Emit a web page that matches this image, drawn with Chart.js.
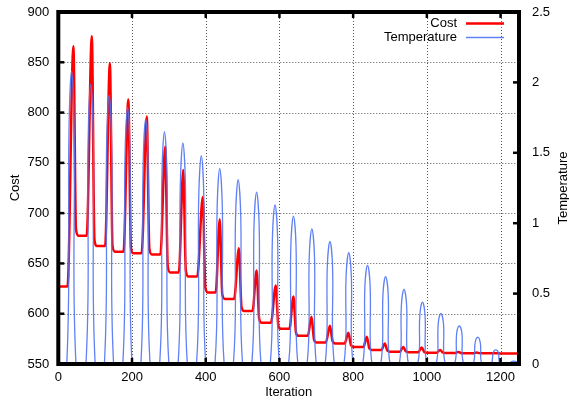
<!DOCTYPE html>
<html>
<head>
<meta charset="utf-8">
<script src="https://cdn.jsdelivr.net/npm/chart.js@4"></script>
<style>
  html, body { margin: 0; padding: 0; background: #fff; }
  #wrap { width: 569px; height: 400px; }
</style>
</head>
<body>
<div id="wrap"><canvas id="chart" width="569" height="400"></canvas></div>
<script>
// Annealing run: cost (left axis) vs temperature (right axis), gnuplot look

const X_TICKS = [0, 200, 400, 600, 800, 1000, 1200];
const COST_TICKS = [550, 600, 650, 700, 750, 800, 850, 900];
const TEMP_TICKS = [0, 0.5, 1, 1.5, 2, 2.5];

// one entry per heating cycle
const TEMP_PEAK_ITER = [36, 88, 138, 188, 237, 288, 338, 388, 438, 488, 538, 588, 638,
                        688, 737, 788, 839, 888, 938, 988, 1038, 1088, 1138, 1187, 1236];
const TEMP_PEAK = [2.08, 1.99, 1.91, 1.82, 1.74, 1.65, 1.57, 1.48, 1.39, 1.31, 1.22, 1.13, 1.05,
                   0.96, 0.87, 0.79, 0.70, 0.62, 0.53, 0.44, 0.36, 0.27, 0.19, 0.10, 0.02];
// value on each side of an arc, 7 iterations from its peak
const TEMP_SHOULDER = [1.66, 1.59, 1.53, 1.46, 1.39, 1.32, 1.26, 1.18, 1.11, 1.05, 0.98, 0.90, 0.84,
                       0.77, 0.70, 0.63, 0.56, 0.50, 0.42, 0.35, 0.29, 0.22, 0.15, 0.08, 0.016];
const TEMP_RISE = 13;   // iterations from zero to peak
const TEMP_FALL = 12;

// cost level before each spike (last one = level after the final cycle)
const COST_LEVEL = [627, 677.5, 667.3, 661.6, 660, 659, 641, 637, 621, 614.6, 602.7, 591, 585,
                    578, 571.5, 570.5, 567, 564, 562.3, 561.8, 561.3, 560.9, 560.7, 560.6, 560.5, 560.5];
const COST_PEAK_ITER = [41, 91, 140, 190, 240, 290, 339, 392, 438, 490, 538, 590, 638,
                        687, 737, 787, 837, 886, 936, 986, 1036, 1085, 1135, 1185, 1235];
const COST_PEAK = [866, 876, 849, 813, 796, 766, 743, 716, 694, 665, 643, 628, 617,
                   597, 588, 581, 577, 570.5, 567, 566.5, 564, 562, 561.5, 560.8, 560.5];
const COST_DROP = [684, 674, 668, 666, 665, 647, 643, 626, 619, 607, 595, 588, 581,
                   574, 573, 569, 565.5, 563.2, 562.6, 562, 561.4, 561, 560.8, 560.6, 560.5];

const X_MAX = 1250;
const FONT = { family: "'Liberation Sans', Arial, sans-serif", size: 13 };
const RED = '#ff0000';
const BLUE = 'rgba(80, 115, 245, 0.9)';

function costPoints() {
    const pts = [{ x: 0, y: COST_LEVEL[0] }];
    TEMP_PEAK_ITER.forEach((p, k) => {
        const c = COST_PEAK_ITER[k];
        pts.push({ x: p - 11, y: COST_LEVEL[k] });
        pts.push({ x: c, y: COST_PEAK[k] });
        pts.push({ x: c + 7, y: COST_DROP[k] });
        pts.push({ x: c + 14, y: COST_LEVEL[k + 1] });
    });
    pts.push({ x: X_MAX, y: COST_LEVEL[COST_LEVEL.length - 1] });
    return pts;
}

function tempPoints() {
    const pts = [{ x: 0, y: 0 }];
    TEMP_PEAK_ITER.forEach((p, k) => {
        pts.push({ x: p - TEMP_RISE, y: 0 });
        pts.push({ x: p - 7, y: TEMP_SHOULDER[k] });
        pts.push({ x: p, y: TEMP_PEAK[k] });
        pts.push({ x: p + 7, y: TEMP_SHOULDER[k] });
        pts.push({ x: p + TEMP_FALL, y: 0 });
    });
    return pts;
}

// gnuplot-style frame: dotted grid, thick border, inward ticks, titles, legend
const frame = {
    id: 'frame',
    beforeDatasetsDraw(chart) {
        const { ctx, chartArea: a, scales } = chart;
        ctx.save();
        ctx.strokeStyle = '#555';
        ctx.lineWidth = 1;
        ctx.setLineDash([1, 2]);
        X_TICKS.slice(1).forEach(v => {
            const x = Math.round(scales.x.getPixelForValue(v)) + 0.5;
            ctx.beginPath(); ctx.moveTo(x, a.top); ctx.lineTo(x, a.bottom); ctx.stroke();
        });
        COST_TICKS.slice(1, -1).forEach(v => {
            const y = Math.round(scales.y.getPixelForValue(v)) + 0.5;
            ctx.beginPath(); ctx.moveTo(a.left, y); ctx.lineTo(a.right, y); ctx.stroke();
        });
        ctx.restore();
    },
    afterDatasetsDraw(chart) {
        const { ctx, chartArea: a, scales } = chart;
        ctx.save();
        ctx.strokeStyle = '#000';
        ctx.lineWidth = 4;
        ctx.strokeRect(a.left, a.top, a.right - a.left, a.bottom - a.top);

        ctx.lineWidth = 2.5;
        const tl = 6;
        X_TICKS.forEach(v => {
            const x = scales.x.getPixelForValue(v);
            ctx.beginPath(); ctx.moveTo(x, a.bottom); ctx.lineTo(x, a.bottom - tl); ctx.stroke();
            ctx.beginPath(); ctx.moveTo(x, a.top); ctx.lineTo(x, a.top + tl); ctx.stroke();
        });
        COST_TICKS.forEach(v => {
            const y = scales.y.getPixelForValue(v);
            ctx.beginPath(); ctx.moveTo(a.left, y); ctx.lineTo(a.left + tl, y); ctx.stroke();
        });
        TEMP_TICKS.forEach(v => {
            const y = scales.y2.getPixelForValue(v);
            ctx.beginPath(); ctx.moveTo(a.right, y); ctx.lineTo(a.right - tl, y); ctx.stroke();
        });

        // axis titles
        ctx.fillStyle = '#000';
        ctx.font = `${FONT.size}px ${FONT.family}`;
        ctx.textAlign = 'center';
        ctx.textBaseline = 'middle';
        ctx.fillText('Iteration', (a.left + a.right) / 2, 392);
        const cy = (a.top + a.bottom) / 2;
        [['Cost', 15], ['Temperature', 563.5]].forEach(([t, x]) => {
            ctx.save();
            ctx.translate(x, cy);
            ctx.rotate(-Math.PI / 2);
            ctx.fillText(t, 0, 0);
            ctx.restore();
        });

        // legend, text right-aligned then a line sample
        ctx.textAlign = 'right';
        chart.data.datasets.forEach((ds, i) => {
            const y = 23.5 + i * 14;
            ctx.fillStyle = '#000';
            ctx.fillText(ds.label, 457, y);
            ctx.strokeStyle = ds.borderColor;
            ctx.lineWidth = ds.borderWidth;
            ctx.beginPath(); ctx.moveTo(466, y); ctx.lineTo(504, y); ctx.stroke();
        });
        ctx.restore();
    }
};

const tickOpts = (padding) => ({
    padding,
    color: '#000',
    font: FONT,
    maxRotation: 0,
    callback: v => String(v),
});

// pin the plot area: no extra room for half tick labels
const noPad = s => { s.paddingTop = 0; s.paddingBottom = 0; s.paddingLeft = 0; s.paddingRight = 0; };

new Chart(document.getElementById('chart'), {
    type: 'line',
    data: {
        datasets: [
            {
                label: 'Cost',
                data: costPoints(),
                yAxisID: 'y',
                borderColor: RED,
                borderWidth: 2.5,
                pointRadius: 0,
                cubicInterpolationMode: 'monotone',
                order: 1,
            },
            {
                label: 'Temperature',
                data: tempPoints(),
                yAxisID: 'y2',
                borderColor: BLUE,
                borderWidth: 1.3,
                pointRadius: 0,
                tension: 0.4,
                order: 0,
            },
        ]
    },
    options: {
        responsive: false,
        devicePixelRatio: 1,
        animation: false,
        layout: { padding: { top: 12, left: 0, right: 0, bottom: 0 } },
        plugins: { legend: { display: false }, tooltip: { enabled: false } },
        scales: {
            x: {
                type: 'linear', min: 0, max: X_MAX,
                afterBuildTicks: s => { s.ticks = X_TICKS.map(v => ({ value: v })); },
                afterFit: s => { s.height = 36; noPad(s); },
                grid: { display: false, drawTicks: false },
                border: { display: false },
                ticks: tickOpts(6),
            },
            y: {
                position: 'left', min: 550, max: 900,
                afterBuildTicks: s => { s.ticks = COST_TICKS.map(v => ({ value: v })); },
                afterFit: s => { s.width = 58.3; noPad(s); },
                grid: { display: false, drawTicks: false },
                border: { display: false },
                ticks: tickOpts(9),
            },
            y2: {
                position: 'right', min: 0, max: 2.5,
                afterBuildTicks: s => { s.ticks = TEMP_TICKS.map(v => ({ value: v })); },
                afterFit: s => { s.width = 50; noPad(s); },
                grid: { display: false, drawTicks: false },
                border: { display: false },
                ticks: tickOpts(13),
            },
        }
    },
    plugins: [frame]
});
</script>
</body>
</html>
